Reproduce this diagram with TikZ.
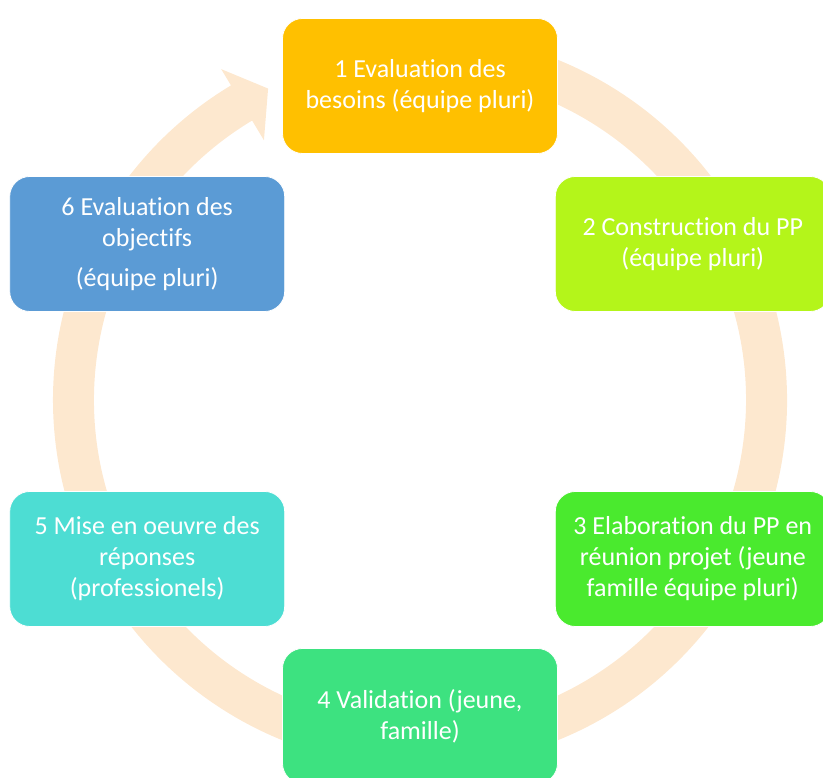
\documentclass[tikz,border=0pt]{standalone}
\usepackage{fontspec}
\setmainfont[Ligatures=NoCommon]{Carlito}
\definecolor{ringpeach}{RGB}{253,232,207}
\definecolor{stepA}{RGB}{255,192,0}
\definecolor{stepB}{RGB}{180,245,26}
\definecolor{stepC}{RGB}{74,234,46}
\definecolor{stepD}{RGB}{61,226,128}
\definecolor{stepE}{RGB}{77,221,211}
\definecolor{stepF}{RGB}{91,155,213}
\tikzset{
  cyclebox/.style={rectangle, rounded corners=20pt, minimum width=275pt,
    minimum height=135pt, inner sep=0pt, draw=white, line width=0.8pt,
    text=white, align=center, font=\fontsize{26}{31}\selectfont},
}
\begin{document}
\begin{tikzpicture}[x=1pt,y=1pt]
  \useasboundingbox (0,0) rectangle (823,778);
  \clip (0,0) rectangle (823,778);
  % circular arrow behind the steps
  \begin{scope}[shift={(420,378)}]
    \fill[ringpeach] (100:367) arc[start angle=100, end angle=-239, radius=367]
      -- (121:386) -- (116:346.5) -- (121:303) -- (121:326)
      arc[start angle=-239, end angle=100, radius=326] -- cycle;
  \end{scope}
  % the six steps
  \node[cyclebox, fill=stepA] (s1) at (420,692) {1 Evaluation des\\besoins (équipe pluri)};
  \node[cyclebox, fill=stepB] (s2) at (692.8,534) {2 Construction du PP\\(équipe pluri)};
  \node[cyclebox, fill=stepC] (s3) at (692.8,219) {3 Elaboration du PP en\\réunion projet (jeune\\famille équipe pluri)};
  \node[cyclebox, fill=stepD] (s4) at (420,62) {4 Validation (jeune,\\famille)};
  \node[cyclebox, fill=stepE] (s5) at (147.2,219) {5 Mise en oeuvre des\\réponses\\(professionels)};
  \node[cyclebox, fill=stepF] (s6) at (147.2,534) {6 Evaluation des\\objectifs\\[9pt](équipe pluri)};
\end{tikzpicture}
\end{document}
